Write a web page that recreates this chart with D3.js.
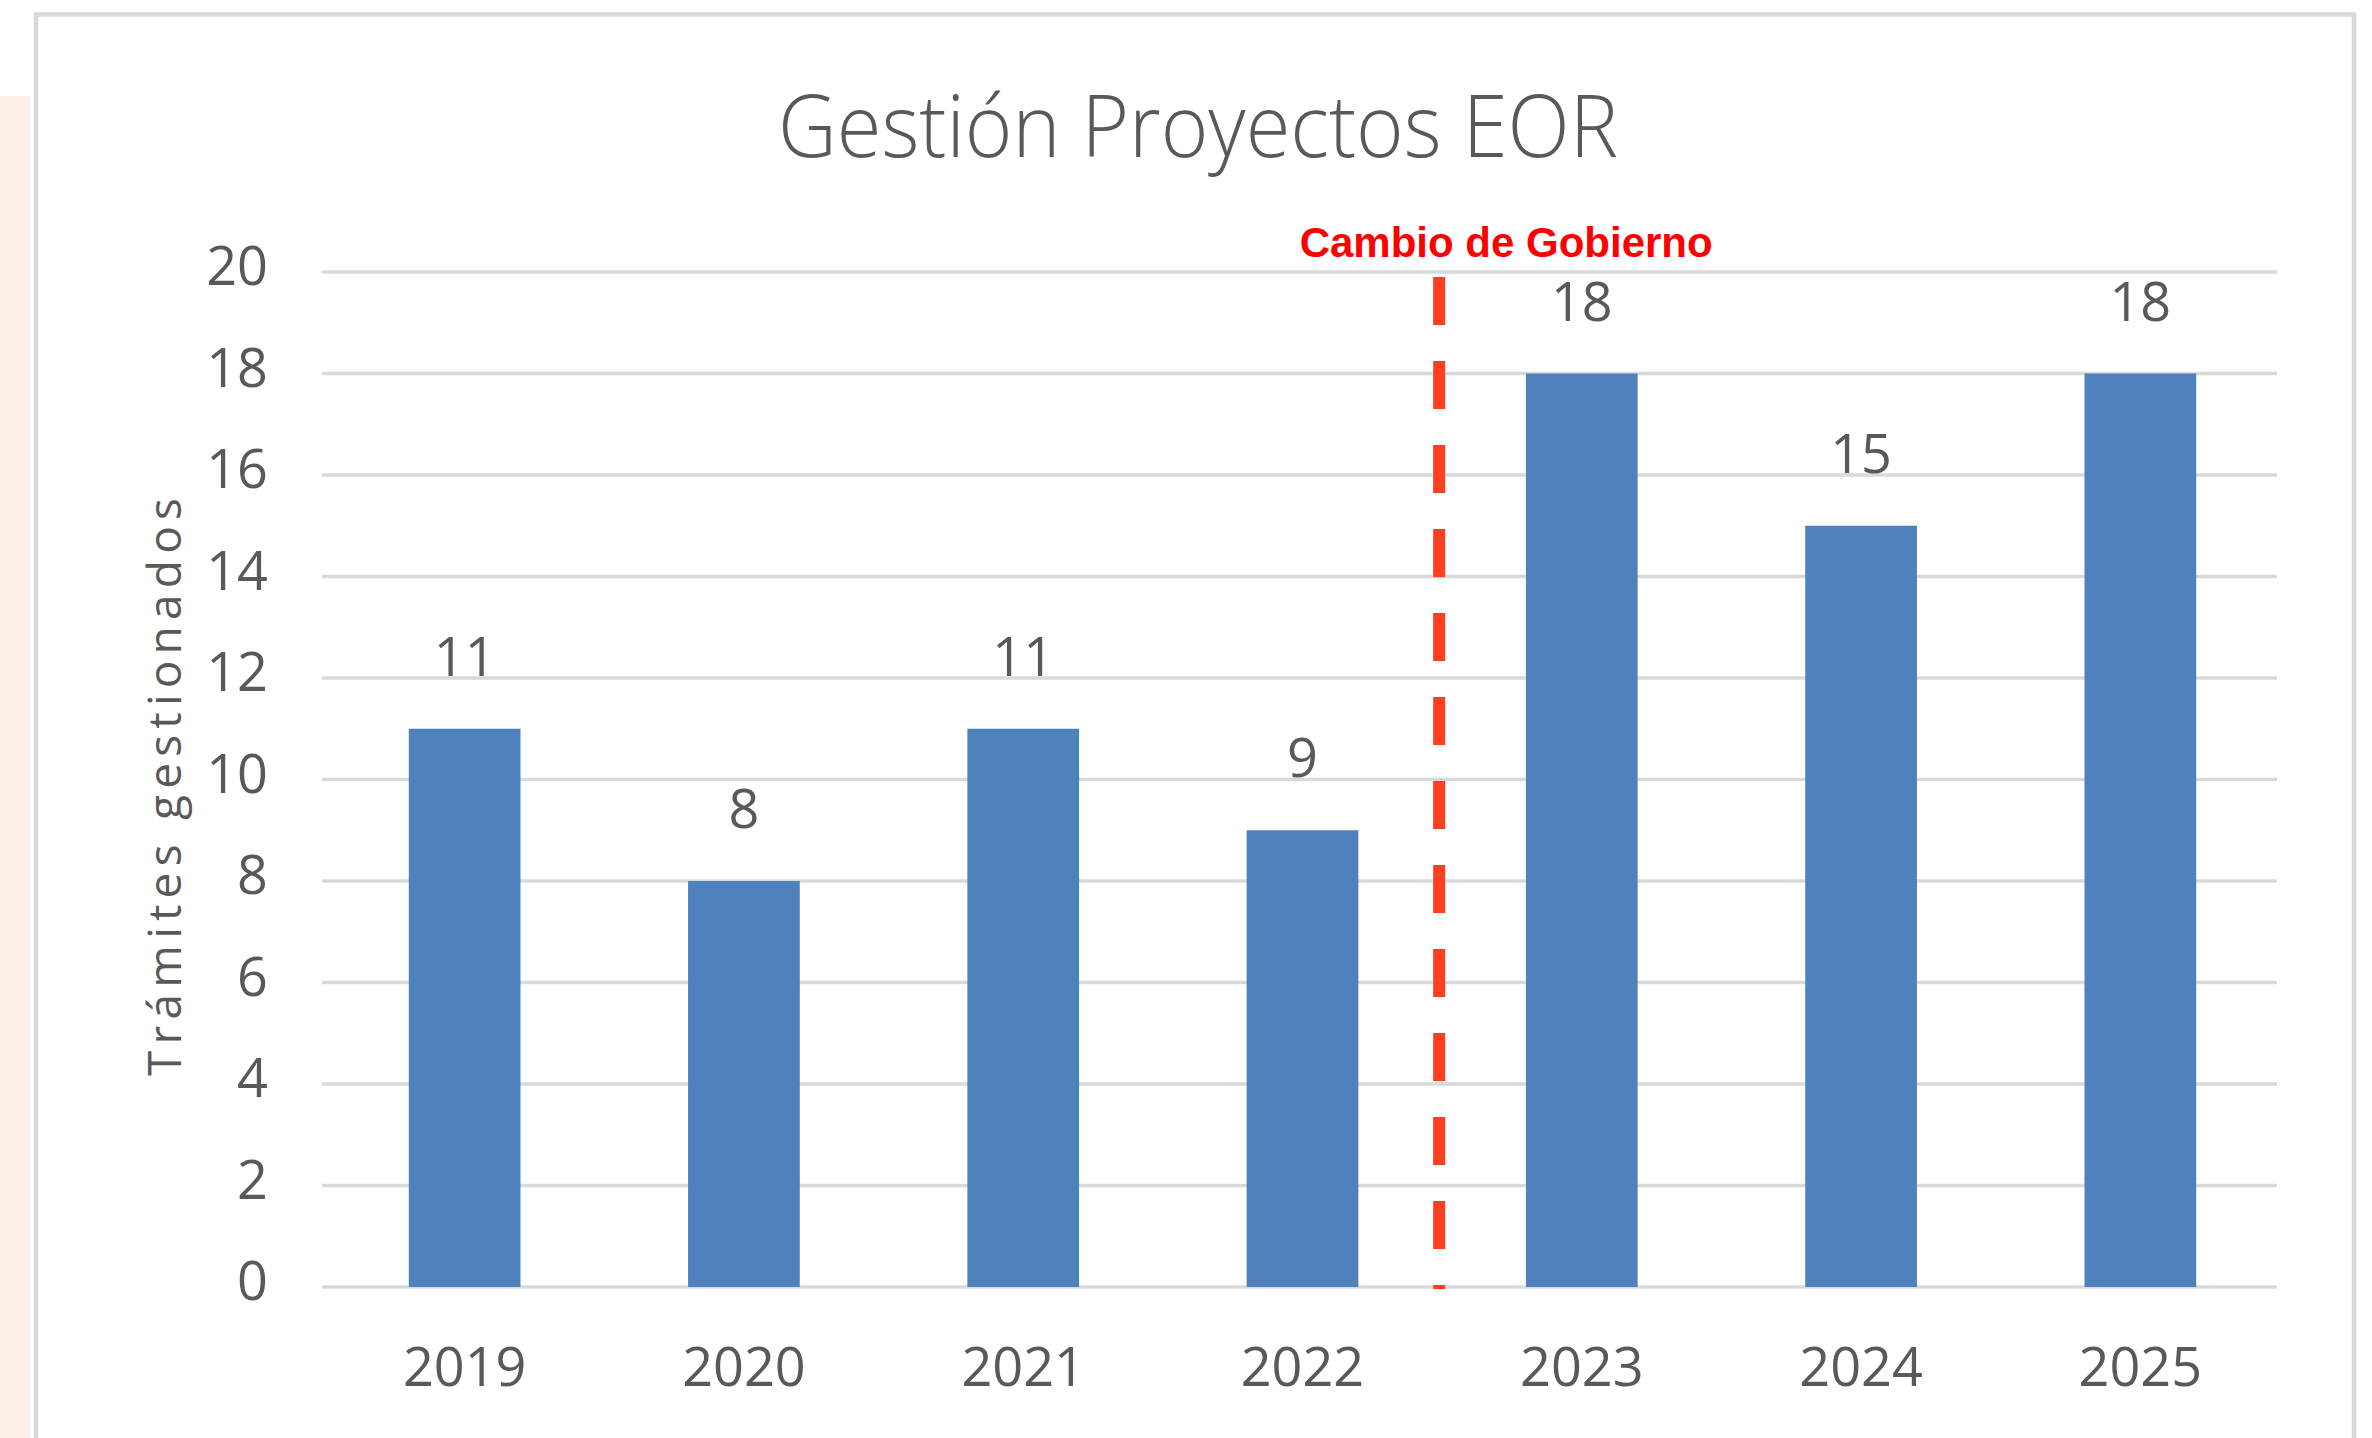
<!DOCTYPE html>
<html>
<head>
<meta charset="utf-8">
<script src="https://cdn.jsdelivr.net/npm/d3@7"></script>
<style>
  body { margin: 0; background: #fff; }
  svg { display: block; }
  text { font-family: "Open Sans", sans-serif; fill: #595959; }
</style>
</head>
<body>
<div id="chart"></div>
<script>
// data
const years = ["2019", "2020", "2021", "2022", "2023", "2024", "2025"];
const tramites = [11, 8, 11, 9, 18, 15, 18];
const yTicks = [0, 2, 4, 6, 8, 10, 12, 14, 16, 18, 20];
const chartTitle = "Gestión Proyectos EOR";
const yTitle = "Trámites gestionados";
const markerText = "Cambio de Gobierno";
const markerBetween = ["2022", "2023"];

const W = 2372, H = 1438;
const margin = {left: 325, right: 92, top: 272, bottom: 151};

let svg = d3.select("#chart").append("svg")
    .attr("width", W)
    .attr("height", H);

// pink strip at the far left
svg.append("rect")
    .attr("x", 0).attr("y", 96)
    .attr("width", 30).attr("height", H - 96)
    .attr("fill", "#fdf0e7");

// chart frame
svg.append("rect")
    .attr("x", 36).attr("y", 14.5)
    .attr("width", 2318).attr("height", H + 40)
    .attr("fill", "#fff")
    .attr("stroke", "#d9d9d9")
    .attr("stroke-width", 4.5);

let x = d3.scaleBand()
    .domain(years)
    .range([margin.left, W - margin.right])
    .paddingInner(0.6)
    .paddingOuter(0.3);

let y = d3.scaleLinear()
    .domain([0, 20])
    .range([H - margin.bottom, margin.top]);

// gridlines
svg.append("g")
    .selectAll("line")
    .data(yTicks)
    .enter()
    .append("line")
    .attr("x1", 322)
    .attr("x2", 2277)
    .attr("y1", d => y(d))
    .attr("y2", d => y(d))
    .attr("stroke", "#d9d9d9")
    .attr("stroke-width", 3.5);

// y tick labels
svg.append("g")
    .selectAll("text")
    .data(yTicks)
    .enter()
    .append("text")
    .attr("x", 268)
    .attr("y", d => y(d) + 13)
    .attr("text-anchor", "end")
    .style("font-size", "54px")
    .text(d => d);

// bars
svg.append("g")
    .selectAll("rect")
    .data(tramites)
    .enter()
    .append("rect")
    .attr("x", (d, i) => x(years[i]))
    .attr("width", x.bandwidth())
    .attr("y", d => y(d))
    .attr("height", d => y(0) - y(d))
    .attr("fill", "#4f81bd");

// value labels
svg.append("g")
    .selectAll("text")
    .data(tramites)
    .enter()
    .append("text")
    .attr("x", (d, i) => x(years[i]) + x.bandwidth() / 2)
    .attr("y", d => y(d) - 53)
    .attr("text-anchor", "middle")
    .style("font-size", "54px")
    .text(d => d);

// x labels
svg.append("g")
    .selectAll("text")
    .data(years)
    .enter()
    .append("text")
    .attr("x", d => x(d) + x.bandwidth() / 2)
    .attr("y", 1386)
    .attr("text-anchor", "middle")
    .style("font-size", "54px")
    .text(d => d);

// title
svg.append("text")
    .attr("x", 1198)
    .attr("y", 157)
    .attr("text-anchor", "middle")
    .attr("textLength", 840)
    .attr("lengthAdjust", "spacingAndGlyphs")
    .style("font-size", "86px")
    .style("font-weight", 300)
    .text(chartTitle);

// y axis title
svg.append("text")
    .attr("transform", "translate(181," + 787 + ") rotate(-90)")
    .attr("text-anchor", "middle")
    .attr("textLength", 578)
    .attr("lengthAdjust", "spacing")
    .style("font-size", "46px")
    .text(yTitle);

// government change marker, between the 2022 and 2023 bars
let mx = (x(markerBetween[0]) + x(markerBetween[1]) + x.bandwidth()) / 2 - 3;
svg.append("line")
    .attr("x1", mx).attr("x2", mx)
    .attr("y1", y(20) + 5)
    .attr("y2", y(0) + 2)
    .attr("stroke", "#ff4020")
    .attr("stroke-width", 12)
    .attr("stroke-dasharray", "48 36");

svg.append("text")
    .attr("x", mx + 67)
    .attr("y", 257)
    .attr("text-anchor", "middle")
    .style("font-family", "'Liberation Sans', Arial, sans-serif")
    .style("font-weight", "bold")
    .style("font-size", "42px")
    .style("fill", "#ff0000")
    .text(markerText);
</script>
</body>
</html>
